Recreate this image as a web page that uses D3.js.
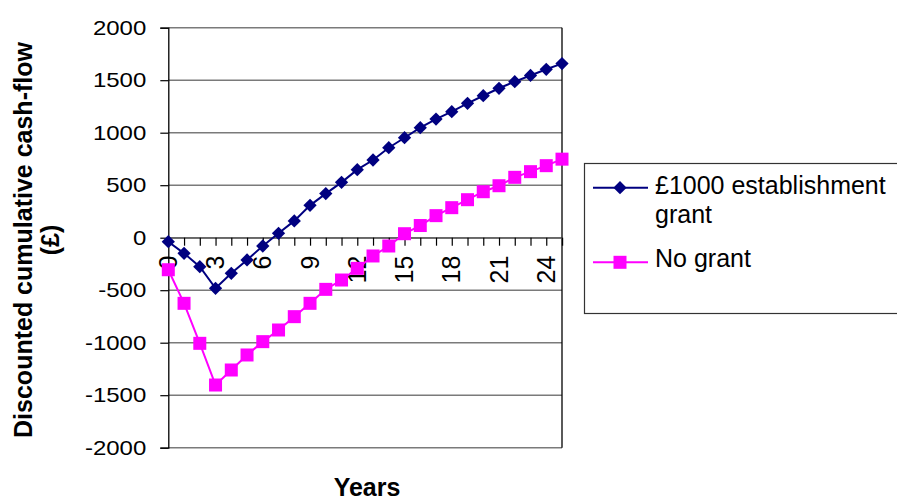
<!DOCTYPE html>
<html>
<head>
<meta charset="utf-8">
<script src="https://cdn.jsdelivr.net/npm/d3@7"></script>
<style>
  html, body { margin: 0; padding: 0; background: #fff; }
  svg { display: block; font-family: "Liberation Sans", Arial, sans-serif; }
</style>
</head>
<body>
<svg id="chart" width="897" height="500"></svg>
<script>
// Years since planting
const years = d3.range(0, 26);

// Discounted cumulative cash-flow (£) per year
const grantValues = [
  -38, -149, -276, -482, -339, -212, -79, 42, 160, 308,
  420, 527, 648, 740, 857, 952, 1048, 1130, 1200, 1280,
  1352, 1423, 1486, 1545, 1604, 1658
];
const noGrantValues = [
  -305, -625, -1006, -1403, -1260, -1117, -990, -879, -752, -625,
  -492, -403, -292, -174, -79, 38, 116, 210, 286, 362,
  438, 495, 575, 629, 686, 748
];

const seriesNames = ["£1000 establishment grant", "No grant"];
const yTicks = [-2000, -1500, -1000, -500, 0, 500, 1000, 1500, 2000];
const xLabelYears = [0, 3, 6, 9, 12, 15, 18, 21, 24];

const svg = d3.select("#chart");

const plot = { left: 168.3, right: 562, top: 27.7, bottom: 447.7 };

const x = d3.scalePoint().domain(years).range([plot.left, plot.right]);
const y = d3.scaleLinear().domain([-2000, 2000]).range([plot.bottom, plot.top]);

// Horizontal gridlines
svg.append("g")
  .selectAll("line")
  .data(yTicks)
  .join("line")
  .attr("x1", plot.left).attr("x2", plot.right)
  .attr("y1", d => y(d)).attr("y2", d => y(d))
  .attr("stroke", "#7a7a7a").attr("stroke-width", 1.4);

// Right edge of the plot area
svg.append("line")
  .attr("x1", plot.right).attr("x2", plot.right)
  .attr("y1", plot.top).attr("y2", plot.bottom)
  .attr("stroke", "#000").attr("stroke-width", 1.3);

// Value axis
const yAxis = svg.append("g")
  .attr("transform", `translate(${plot.left},0)`)
  .call(d3.axisLeft(y).tickValues(yTicks).tickSize(8).tickPadding(14).tickFormat(d => String(d)));
yAxis.select(".domain").attr("stroke", "#000").attr("stroke-width", 1.3);
yAxis.selectAll(".tick line").attr("stroke", "#000").attr("stroke-width", 1.2);
yAxis.selectAll(".tick text")
  .attr("x", 0)
  .attr("transform", "translate(-22,0) scale(1.2,1)")
  .attr("font-size", 20)
  .attr("fill", "#000")
  .attr("font-family", "Liberation Sans, Arial, sans-serif");

// Category axis through zero
const xAxis = svg.append("g")
  .attr("transform", `translate(0,${y(0)})`)
  .call(d3.axisBottom(x).tickSize(8)
    .tickFormat(d => xLabelYears.includes(d) ? String(d) : ""));
xAxis.select(".domain").attr("stroke", "#555").attr("stroke-width", 1.3);
xAxis.selectAll(".tick line").attr("stroke", "#000").attr("stroke-width", 1.2);
xAxis.selectAll(".tick text")
  .attr("font-size", 25)
  .attr("fill", "#000")
  .attr("font-family", "Liberation Sans, Arial, sans-serif")
  .attr("text-anchor", "end")
  .attr("y", 0).attr("x", 0)
  .attr("dy", "0.36em")
  .attr("transform", "translate(-1,18) rotate(-90)");

// Series lines
const line = d3.line().x((d, i) => x(years[i])).y(d => y(d));

svg.append("path")
  .datum(grantValues)
  .attr("d", line)
  .attr("fill", "none").attr("stroke", "#000080").attr("stroke-width", 2);

svg.append("path")
  .datum(noGrantValues)
  .attr("d", line)
  .attr("fill", "none").attr("stroke", "#FF00FF").attr("stroke-width", 2);

// Markers
const diamond = d3.symbol().type(d3.symbolSquare).size(88);
svg.append("g")
  .selectAll("path")
  .data(grantValues)
  .join("path")
  .attr("d", diamond)
  .attr("transform", (d, i) => `translate(${x(years[i])},${y(d)}) rotate(45)`)
  .attr("fill", "#000080");

svg.append("g")
  .selectAll("rect")
  .data(noGrantValues)
  .join("rect")
  .attr("x", (d, i) => x(years[i]) - 6.5)
  .attr("y", d => y(d) - 6.5)
  .attr("width", 13).attr("height", 13)
  .attr("fill", "#FF00FF");

// Axis titles
svg.append("text")
  .attr("x", 367).attr("y", 496)
  .attr("text-anchor", "middle")
  .attr("font-size", 25).attr("font-weight", "bold")
  .text("Years");

const yTitle = svg.append("text")
  .attr("transform", "translate(32,240) rotate(-90)")
  .attr("text-anchor", "middle")
  .attr("font-size", 25).attr("font-weight", "bold");
yTitle.append("tspan").attr("x", 0).attr("y", 0).text("Discounted cumulative cash-flow");
yTitle.append("tspan").attr("x", 0).attr("y", 27).text("(£)");

// Legend
const legend = svg.append("g");
legend.append("rect")
  .attr("x", 584.5).attr("y", 163.5)
  .attr("width", 330).attr("height", 150)
  .attr("fill", "#fff").attr("stroke", "#333").attr("stroke-width", 1.2);

const legendRows = [
  { name: seriesNames[0], color: "#000080", marker: "diamond", cy: 187.7 },
  { name: seriesNames[1], color: "#FF00FF", marker: "square", cy: 262.3 }
];

legendRows.forEach(r => {
  legend.append("line")
    .attr("x1", 593).attr("x2", 648)
    .attr("y1", r.cy).attr("y2", r.cy)
    .attr("stroke", r.color).attr("stroke-width", 2);
  if (r.marker === "diamond") {
    legend.append("path")
      .attr("d", diamond)
      .attr("transform", `translate(620,${r.cy}) rotate(45)`)
      .attr("fill", r.color);
  } else {
    legend.append("rect")
      .attr("x", 613.5).attr("y", r.cy - 6.5)
      .attr("width", 13).attr("height", 13)
      .attr("fill", r.color);
  }
});

const legendText1 = legend.append("text")
  .attr("font-size", 25).attr("fill", "#000");
legendText1.append("tspan").attr("x", 655).attr("y", 194).text("£1000 establishment");
legendText1.append("tspan").attr("x", 655).attr("y", 223).text("grant");

legend.append("text")
  .attr("x", 655).attr("y", 267)
  .attr("font-size", 25).attr("fill", "#000")
  .text(seriesNames[1]);
</script>
</body>
</html>
